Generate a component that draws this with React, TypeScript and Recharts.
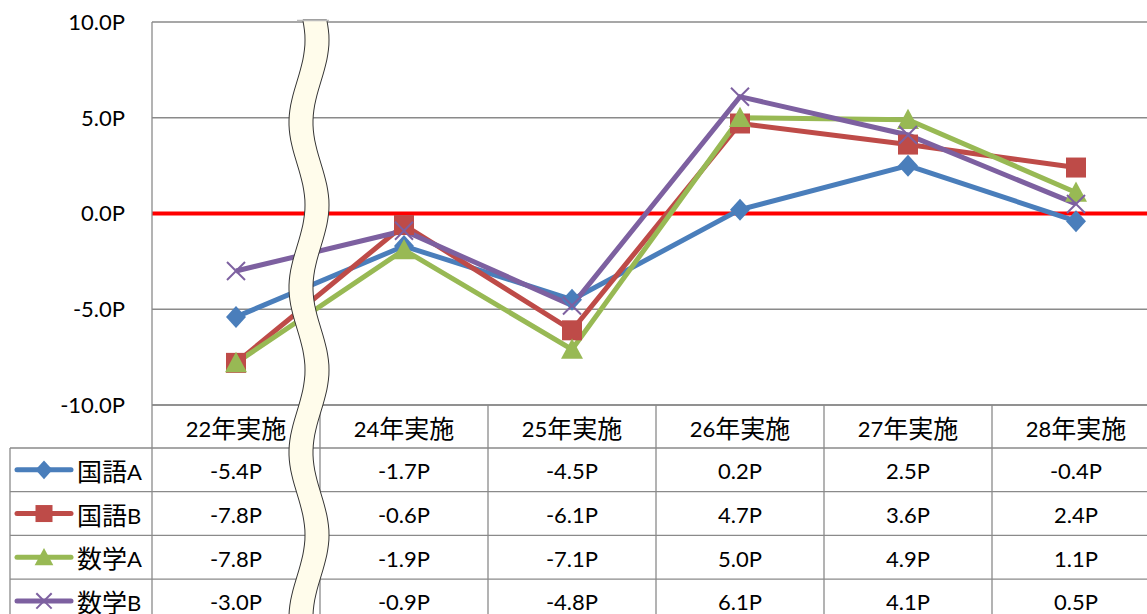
import React from "react";
import { LineChart, Line, XAxis, YAxis, CartesianGrid, ReferenceLine } from "recharts";

const categories = ["22年実施", "24年実施", "25年実施", "26年実施", "27年実施", "28年実施"];
const kokugoA = [-5.4, -1.7, -4.5, 0.2, 2.5, -0.4];
const kokugoB = [-7.8, -0.6, -6.1, 4.7, 3.6, 2.4];
const sugakuA = [-7.8, -1.9, -7.1, 5.0, 4.9, 1.1];
const sugakuB = [-3.0, -0.9, -4.8, 6.1, 4.1, 0.5];
const yTicks = [-10, -5, 0, 5, 10];

const series = [
  { key: "kokugoA", name: "国語A", values: kokugoA, color: "#4A7EBB", marker: "diamond" },
  { key: "kokugoB", name: "国語B", values: kokugoB, color: "#BE4B48", marker: "square" },
  { key: "sugakuA", name: "数学A", values: sugakuA, color: "#98B954", marker: "triangle" },
  { key: "sugakuB", name: "数学B", values: sugakuB, color: "#7D60A0", marker: "cross" },
];

const data = categories.map((cat, i) => {
  const row: any = { cat };
  series.forEach((s) => (row[s.key] = s.values[i]));
  return row;
});

const FONT = "Lato, 'Noto Sans CJK JP', sans-serif";
const GRID = "#8a8a8a";
const W = 1160;
const H = 614;
const PLOT_LEFT = 152;
const PLOT_TOP = 22;
const AXIS_H = 209;
const COL_W = (W - PLOT_LEFT) / categories.length;
const HEAD_H = 43;
const ROW_H = 43.7;

const fmt = (v: number) => v.toFixed(1) + "P";

// CJK glyphs look a bit larger than the latin ones in the original
const Mixed = ({ text }: { text: string }) => {
  const parts = text.match(/[\u3000-\u9fff]+|[^\u3000-\u9fff]+/g) || [];
  return (
    <>
      {parts.map((p, k) => (
        <tspan key={k} fontSize={/[\u3000-\u9fff]/.test(p) ? 25 : 22}>
          {p}
        </tspan>
      ))}
    </>
  );
};

const Marker = ({ cx, cy, color, type, s = 1 }: any) => {
  if (cx == null || cy == null) return null;
  if (type === "diamond") {
    const w = 10 * s, h = 11 * s;
    return <polygon points={`${cx},${cy - h} ${cx + w},${cy} ${cx},${cy + h} ${cx - w},${cy}`} fill={color} />;
  }
  if (type === "square") {
    const a = 10 * s;
    return <rect x={cx - a} y={cy - a} width={a * 2} height={a * 2} fill={color} />;
  }
  if (type === "triangle") {
    const w = 11 * s, h = 11 * s;
    return <polygon points={`${cx},${cy - h} ${cx + w},${cy + h * 0.85} ${cx - w},${cy + h * 0.85}`} fill={color} />;
  }
  const a = 9 * s;
  return (
    <g stroke={color} strokeWidth={2}>
      <line x1={cx - a} y1={cy - a} x2={cx + a} y2={cy + a} />
      <line x1={cx - a} y1={cy + a} x2={cx + a} y2={cy - a} />
    </g>
  );
};

const TableTick = (props: any) => {
  const { x, y, payload } = props;
  const i = payload.index ?? props.index;
  const left = x - COL_W / 2;
  const right = x + COL_W / 2;
  return (
    <g fontFamily={FONT} fontSize={22} fill="#000">
      {i === 0 && <line x1={left} y1={y} x2={left} y2={H} stroke={GRID} strokeWidth={1.3} />}
      <line x1={right} y1={y} x2={right} y2={H} stroke={GRID} strokeWidth={1.3} />
      <text x={x} y={y + HEAD_H / 2 + 1} textAnchor="middle" dominantBaseline="central">
        <Mixed text={payload.value} />
      </text>
      {series.map((s, r) => {
        const top = y + HEAD_H + r * ROW_H;
        return (
          <g key={s.key}>
            <line x1={left} y1={top} x2={right} y2={top} stroke={GRID} strokeWidth={1.3} />
            <text x={x} y={top + ROW_H / 2 + 1} textAnchor="middle" dominantBaseline="central">
              {fmt(s.values[i])}
            </text>
          </g>
        );
      })}
    </g>
  );
};

// wavy "omitted" band drawn over the chart between the first two columns
const breakPath = () => {
  const pts: number[] = [];
  for (let y = 20; y <= 640; y += 5) pts.push(y);
  const cx = (y: number) => 309 + 8 * Math.cos((2 * Math.PI * (y - 205)) / 165);
  const leftSide = pts.map((y, k) => `${k === 0 ? "M" : "L"}${(cx(y) - 12).toFixed(1)},${y}`).join(" ");
  const rightSide = pts
    .slice()
    .reverse()
    .map((y) => `L${(cx(y) + 12).toFixed(1)},${y}`)
    .join(" ");
  return `${leftSide} ${rightSide} Z`;
};

const Overlay = () => {
  const top0 = PLOT_TOP + (H - AXIS_H - PLOT_TOP) + HEAD_H;
  return (
    <svg width={1147} height={H} style={{ position: "absolute", left: 0, top: 0, pointerEvents: "none" }}>
      <line x1={10} y1={top0} x2={10} y2={H} stroke={GRID} strokeWidth={1.3} />
      {series.map((s, r) => {
        const top = top0 + r * ROW_H;
        const cy = top + ROW_H / 2;
        return (
          <g key={s.key}>
            <line x1={10} y1={top} x2={PLOT_LEFT} y2={top} stroke={GRID} strokeWidth={1.3} />
            <line x1={17} y1={cy} x2={71} y2={cy} stroke={s.color} strokeWidth={5} strokeLinecap="round" />
            <Marker cx={44} cy={cy} color={s.color} type={s.marker} s={0.85} />
            <text x={77} y={cy + 1} fontFamily={FONT} fontSize={22} dominantBaseline="central" fill="#000">
              <Mixed text={s.name} />
            </text>
          </g>
        );
      })}
      <path d={breakPath()} fill="#FFFCEB" stroke="#333" strokeWidth={1} />
      <line x1={297} y1={20.5} x2={329} y2={20.5} stroke="#bbb" strokeWidth={1.5} />
    </svg>
  );
};

export default function App() {
  return (
    <div style={{ position: "absolute", left: 0, top: 0, width: 1147, height: H, overflow: "hidden", background: "#fff" }}>
      <LineChart width={W} height={H} data={data} margin={{ top: PLOT_TOP, right: 0, bottom: 0, left: 0 }}>
        <CartesianGrid horizontal vertical={false} stroke={GRID} strokeWidth={1.3} />
        <XAxis
          dataKey="cat"
          height={AXIS_H}
          padding={{ left: COL_W / 2, right: COL_W / 2 }}
          tickSize={0}
          tickMargin={0}
          tickLine={false}
          axisLine={{ stroke: GRID, strokeWidth: 1.3 }}
          interval={0}
          tick={<TableTick />}
        />
        <YAxis
          domain={[-10, 10]}
          ticks={yTicks}
          width={PLOT_LEFT}
          tickFormatter={fmt}
          tickSize={0}
          tickMargin={27}
          tickLine={false}
          axisLine={{ stroke: GRID, strokeWidth: 1.3 }}
          tick={{ fontFamily: FONT, fontSize: 22, fill: "#000" }}
        />
        <ReferenceLine y={0} stroke="#FF0000" strokeWidth={4} />
        {series.map((s) => (
          <Line
            key={s.key}
            dataKey={s.key}
            name={s.name}
            stroke={s.color}
            strokeWidth={5}
            isAnimationActive={false}
            dot={(p: any) => <Marker key={`${s.key}-${p.index}`} cx={p.cx} cy={p.cy} color={s.color} type={s.marker} />}
            activeDot={false}
          />
        ))}
      </LineChart>
      <Overlay />
    </div>
  );
}
